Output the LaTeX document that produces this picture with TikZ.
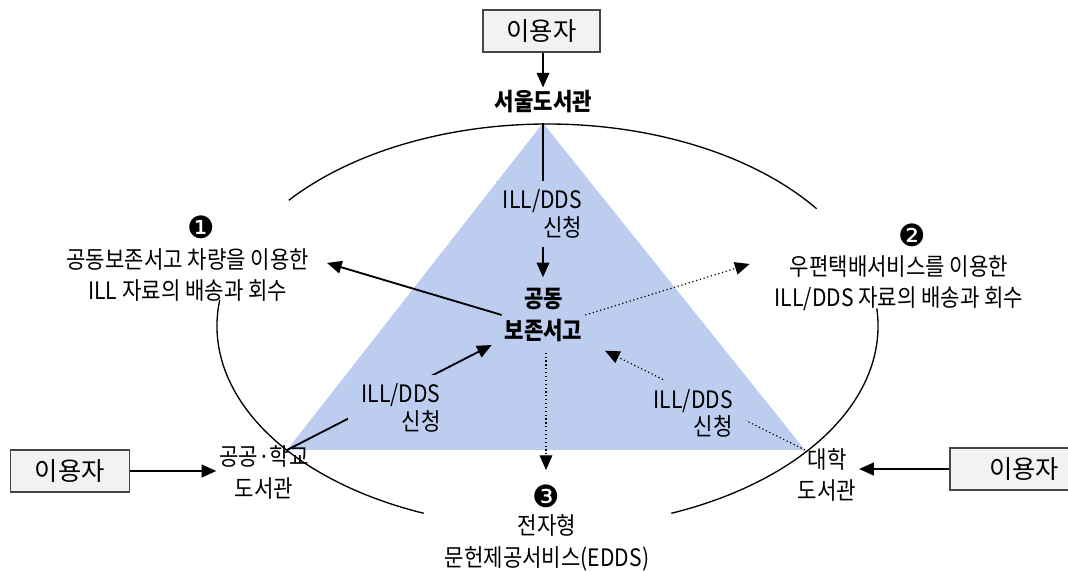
\documentclass[tikz,border=0pt]{standalone}
\usepackage{fontspec}
\setmainfont[FakeStretch=0.88]{Noto Sans CJK KR}
\newfontfamily\userfont{Noto Sans CJK KR}
\newfontfamily\numfont{DejaVu Sans}
\usetikzlibrary{arrows.meta}
\definecolor{trifill}{RGB}{189,205,240}
\definecolor{boxfill}{RGB}{242,242,242}
\definecolor{boxline}{RGB}{70,70,70}
\tikzset{
  txt/.style={align=center, inner sep=2pt, font=\fontsize{18}{23.5}\selectfont},
  bold/.style={txt, font=\fontsize{18}{24}\selectfont\bfseries},
  userbox/.style={draw=boxline, fill=boxfill, line width=0.9pt, minimum height=31.5pt, font=\userfont\fontsize{19}{19}\selectfont},
  reqlbl/.style={fill=trifill, align=right, inner xsep=10pt, inner ysep=7pt, font=\fontsize{18}{20.5}\selectfont},
  num/.style={inner sep=0pt, font=\numfont\fontsize{23}{23}\selectfont},
  arr/.style={line width=1.4pt, -{Triangle[length=11pt,width=9.5pt]}},
  dotarr/.style={line width=0.9pt, dotted, -{Triangle[length=11pt,width=9.5pt]}},
  rim/.style={line width=1pt}
}
\newcommand{\rimarc}[2]{\draw[rim] ([shift={(#1:247.9pt and 151.5pt)}]O) arc[start angle=#1, end angle=#2, x radius=247.9pt, y radius=151.5pt];}

\begin{document}
\begin{tikzpicture}[x=0.75pt,y=0.75pt]
    \useasboundingbox (0,0) rectangle (1068,571);
    % triangle
    \coordinate (A) at (543,448);
    \coordinate (B) at (287,121);
    \coordinate (C) at (805,121);
    \fill[trifill] (A) -- (B) -- (C) -- cycle;
    % rim
    \coordinate (O) at (547.5,245);
    \rimarc{35.5}{141.5}
    \rimarc{172.6}{248}
    \rimarc{-68}{5}
    % users
    \node[userbox, minimum width=87.75pt] (usrtop) at (541.5,540) {이용자};
    \node[userbox, minimum width=89.25pt] (usrleft) at (69.7,100) {이용자};
    \node[userbox, minimum width=111pt] (usrright) at (1024,102) {이용자};
    % libraries
    \node[bold] (seoul) at (543.3,469.3) {서울도서관};
    \node[bold, inner ysep=8pt] (store) at (543.5,256) {공동\\보존서고};
    \node[txt] (publib) at (264,98.5) {공공·학교\\도서관};
    \node[txt] (univ) at (827,96) {대학\\도서관};
    % services
    \node[num] (num1) at (201.4,343.7) {❶};
    \node[txt] (lab1) at (187.7,296) {공동보존서고 차량을 이용한\\ILL 자료의 배송과 회수};
    \node[num] (num2) at (912.6,336) {❷};
    \node[txt] (lab2) at (899,288) {우편택배서비스를 이용한\\ILL/DDS 자료의 배송과 회수};
    \node[num] (num3) at (546,74.3) {❸};
    \node[txt] (lab3) at (547,28) {전자형\\문헌제공서비스(EDDS)};
    % arrow ends
    \coordinate (to1) at (327,308);
    \coordinate (to2) at (749.6,307);
    \coordinate (in3) at (491.7,226);
    \coordinate (in4) at (605,220.3);
    \coordinate (to5) at (546,101);
    % arrows
    \draw[arr] (usrtop.south -| A) -- (seoul.north -| A);
    \draw[arr, line width=1.1pt] (A) -- (store.north -| A);
    \draw[arr] (store.west) -- (to1);
    \draw[dotarr] (store.east) -- (to2);
    \draw[arr] (B) -- (in3);
    \draw[dotarr] (C) -- (in4);
    \draw[dotarr] (store.south -| to5) -- (to5);
    \draw[arr] (usrleft.east) -- (usrleft.east -| publib.west);
    \draw[arr] (usrright.west) -- (usrright.west -| univ.east);
    % requests
    \node[reqlbl, inner xsep=5pt] (reqtop) at (542.5,357) {ILL/DDS\\신청};
    \node[reqlbl] (reqleft) at (401,163) {ILL/DDS\\신청};
    \node[reqlbl] (reqright) at (693.3,157.7) {ILL/DDS\\신청};
\end{tikzpicture}
\end{document}
